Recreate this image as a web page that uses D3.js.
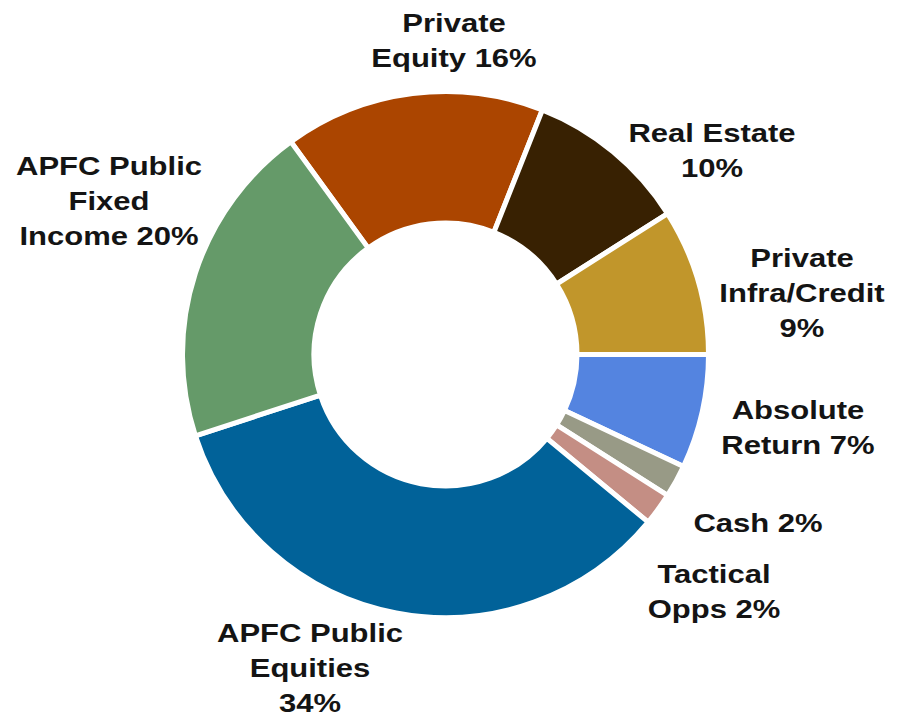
<!DOCTYPE html>
<html>
<head>
<meta charset="utf-8">
<script src="https://cdn.jsdelivr.net/npm/d3@7"></script>
<style>
  html, body { margin: 0; padding: 0; background: #ffffff; }
  svg { display: block; }
  .lbl { font-family: "Liberation Sans", Arial, sans-serif; font-weight: bold; font-size: 26.5px; fill: #141414; }
</style>
</head>
<body>
<svg id="chart" width="906" height="718"></svg>
<script>
// Asset allocation, in percent, clockwise from Private Equity
const categories = [
  "Private Equity", "Real Estate", "Private Infra/Credit", "Absolute Return",
  "Cash", "Tactical Opps", "APFC Public Equities", "APFC Public Fixed Income"
];
const values = [16, 10, 9, 7, 2, 2, 34, 20];
const labelLines = [
  ["Private", "Equity 16%"],
  ["Real Estate", "10%"],
  ["Private", "Infra/Credit", "9%"],
  ["Absolute", "Return 7%"],
  ["Cash 2%"],
  ["Tactical", "Opps 2%"],
  ["APFC Public", "Equities", "34%"],
  ["APFC Public", "Fixed", "Income 20%"]
];
const colors = ["#ab4500", "#382102", "#c1962b", "#5484e0", "#989a86", "#c48e84", "#016299", "#659a69"];

// Layout: label anchor (center x, first baseline) for each slice
const labelAnchors = [
  [454, 32], [712, 142], [802, 267], [798, 419],
  [758, 532], [714, 583], [310, 642], [109, 175]
];
const lineGap = 35;
const textStretch = 1.17;

const svg = d3.select("#chart");
const cx = 445.5, cy = 354.5;
const g = svg.append("g").attr("transform", `translate(${cx},${cy})`);

const data = categories.map((c, i) => ({ name: c, value: values[i], color: colors[i], lines: labelLines[i], anchor: labelAnchors[i] }));

const pie = d3.pie()
  .value(d => d.value)
  .sort(null)
  .startAngle(-0.2 * Math.PI)
  .endAngle(1.8 * Math.PI);

const arc = d3.arc().innerRadius(131.5).outerRadius(263);

g.selectAll("path.slice")
  .data(pie(data))
  .join("path")
  .attr("class", "slice")
  .attr("d", arc)
  .attr("fill", d => d.data.color)
  .attr("stroke", "#ffffff")
  .attr("stroke-width", 5)
  .attr("stroke-linejoin", "miter");

// Category labels
const labels = svg.append("g");
data.forEach(d => {
  d.lines.forEach((line, j) => {
    labels.append("text")
      .attr("class", "lbl")
      .attr("text-anchor", "middle")
      .attr("transform", `translate(${d.anchor[0]},${d.anchor[1] + j * lineGap}) scale(${textStretch},1)`)
      .text(line);
  });
});
</script>
</body>
</html>
